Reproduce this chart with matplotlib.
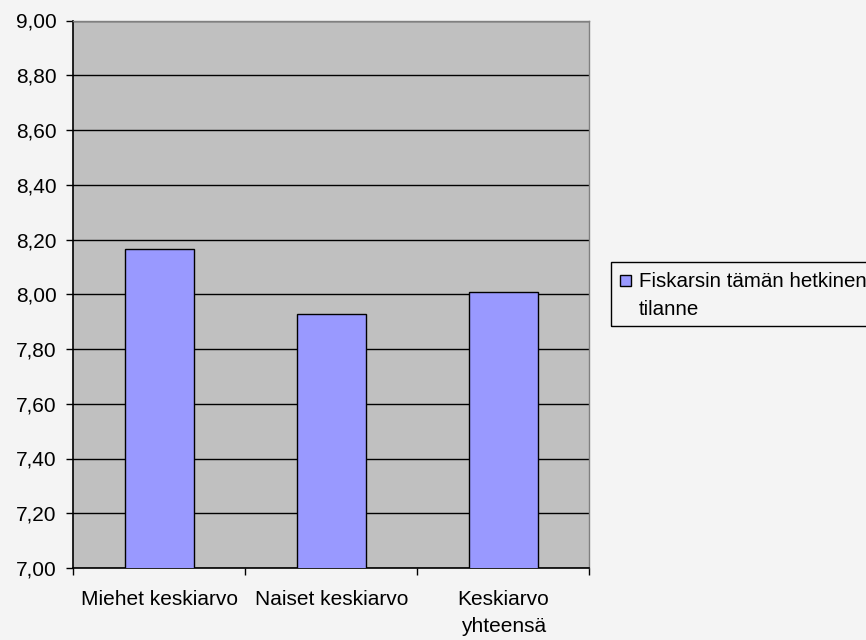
import matplotlib
matplotlib.use("Agg")
import matplotlib.pyplot as plt
from matplotlib.patches import Rectangle
from matplotlib.ticker import FixedLocator, FuncFormatter

categories = ["Miehet keskiarvo", "Naiset keskiarvo", "Keskiarvo\nyhteensä"]
values = [8.164, 7.928, 8.01]
series_name = ["Fiskarsin tämän hetkinen", "tilanne"]
y_ticks = [7.0, 7.2, 7.4, 7.6, 7.8, 8.0, 8.2, 8.4, 8.6, 8.8, 9.0]

plt.rcParams["font.family"] = ["Liberation Sans", "DejaVu Sans"]
FS = 15
BAR_COLOR = "#9999ff"
W, H = 866, 640

fig = plt.figure(figsize=(W / 100, H / 100), dpi=100, facecolor="#f4f4f4")
ax = fig.add_axes([73.3 / W, 1 - 568 / H, (589.3 - 73.3) / W, (568 - 20.5) / H])
ax.set_facecolor("#c0c0c0")

x = range(len(categories))
ax.bar(x, values, width=0.4, color=BAR_COLOR, edgecolor="black",
       linewidth=1.0, zorder=3)

ax.set_xlim(-0.5, len(categories) - 0.5)
ax.set_ylim(7.0, 9.0)
ax.set_yticks(y_ticks)
ax.yaxis.set_major_formatter(FuncFormatter(lambda v, p: f"{v:.2f}".replace(".", ",")))
ax.grid(axis="y", color="black", linewidth=1.0, zorder=1)

# category labels centred, tick marks on the boundaries
ax.set_xticks(list(x))
ax.set_xticklabels(categories, fontsize=FS, linespacing=1.52)
ax.tick_params(axis="x", length=0, pad=16)
ax.xaxis.set_minor_locator(FixedLocator([-0.5, 0.5, 1.5, 2.5]))
ax.tick_params(axis="x", which="minor", length=5, width=1, color="black", direction="out")
ax.tick_params(axis="y", length=5, width=1, color="black", labelsize=FS, pad=7)

for side in ("top", "right"):
    ax.spines[side].set_color("#808080")
    ax.spines[side].set_linewidth(1.0)
for side in ("left", "bottom"):
    ax.spines[side].set_color("black")
    ax.spines[side].set_linewidth(1.2)

# legend box, running off the right edge like the original
fig.patches.append(Rectangle((611 / W, 1 - 326 / H), 300 / W, 64 / H,
                             transform=fig.transFigure, facecolor="none",
                             edgecolor="black", linewidth=1.0))
fig.patches.append(Rectangle((620 / W, 1 - 286 / H), 11 / W, 11.5 / H,
                             transform=fig.transFigure, facecolor=BAR_COLOR,
                             edgecolor="black", linewidth=1.0))
fig.text(639 / W, 1 - 287.3 / H, series_name[0], fontsize=14.8, va="baseline")
fig.text(639 / W, 1 - 315 / H, series_name[1], fontsize=14.8, va="baseline")

fig.savefig("out.png", dpi=100, facecolor=fig.get_facecolor())
